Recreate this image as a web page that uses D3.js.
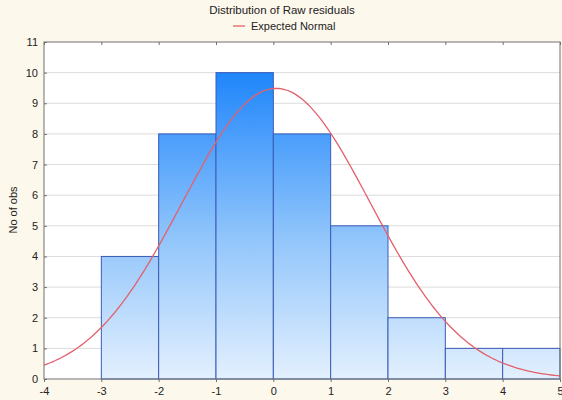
<!DOCTYPE html>
<html>
<head>
<meta charset="utf-8">
<script src="https://cdn.jsdelivr.net/npm/d3@7"></script>
<style>
  html, body { margin: 0; padding: 0; background: #fdf8ec; }
  svg { display: block; font-family: "Liberation Sans", Arial, sans-serif; }
</style>
</head>
<body>
<svg id="chart" width="562" height="400"></svg>
<script>
// Histogram of raw residuals: bin edges and counts
const binStarts = [-3, -2, -1, 0, 1, 2, 3, 4];
const binCounts = [4, 8, 10, 8, 5, 2, 1, 1];
const binWidth = 1;

// Expected normal curve parameters (fitted to the residuals)
const normalMean = 0.05;
const normalSd = 1.64;
const normalN = 39;

const xTicks = [-4, -3, -2, -1, 0, 1, 2, 3, 4, 5];
const yTicks = [0, 1, 2, 3, 4, 5, 6, 7, 8, 9, 10, 11];

const svg = d3.select("#chart");
const margin = { left: 44, right: 2, top: 42, bottom: 21 };
const W = 562, H = 400;

const x = d3.scaleLinear().domain([-4, 5]).range([margin.left, W - margin.right]);
const y = d3.scaleLinear().domain([0, 11]).range([H - margin.bottom, margin.top]);

// Bar fill gradient spans the full plot height
const defs = svg.append("defs");
const grad = defs.append("linearGradient")
  .attr("id", "barGrad")
  .attr("gradientUnits", "userSpaceOnUse")
  .attr("x1", 0).attr("x2", 0)
  .attr("y1", y(0)).attr("y2", y(10));
grad.append("stop").attr("offset", "0%").attr("stop-color", "#e3f0fe");
grad.append("stop").attr("offset", "45%").attr("stop-color", "#93c6fb");
grad.append("stop").attr("offset", "100%").attr("stop-color", "#1f86fb");

// Plot area
svg.append("rect")
  .attr("x", x(-4)).attr("y", y(11))
  .attr("width", x(5) - x(-4)).attr("height", y(0) - y(11))
  .attr("fill", "#ffffff");

// Horizontal grid lines
svg.append("g").selectAll("line")
  .data(yTicks.filter(d => d > 0 && d < 11))
  .join("line")
  .attr("x1", x(-4)).attr("x2", x(5))
  .attr("y1", d => y(d)).attr("y2", d => y(d))
  .attr("stroke", "#dcdcdc").attr("stroke-width", 1);

// Histogram bars
svg.append("g").selectAll("rect")
  .data(binStarts.map((s, i) => ({ s, c: binCounts[i] })))
  .join("rect")
  .attr("x", d => x(d.s))
  .attr("y", d => y(d.c))
  .attr("width", d => x(d.s + binWidth) - x(d.s))
  .attr("height", d => y(0) - y(d.c))
  .attr("fill", "url(#barGrad)")
  .attr("stroke", "#3a5cb8")
  .attr("stroke-width", 1);

// Expected normal curve
const normalPts = d3.range(-4, 5.0001, 0.05).map(v => [
  v,
  normalN * binWidth / (normalSd * Math.sqrt(2 * Math.PI)) *
    Math.exp(-0.5 * Math.pow((v - normalMean) / normalSd, 2))
]);
svg.append("path")
  .datum(normalPts)
  .attr("fill", "none")
  .attr("stroke", "#e4606c")
  .attr("stroke-width", 1.3)
  .attr("d", d3.line().x(d => x(d[0])).y(d => y(d[1])));

// Plot frame
svg.append("rect")
  .attr("x", x(-4)).attr("y", y(11))
  .attr("width", x(5) - x(-4)).attr("height", y(0) - y(11))
  .attr("fill", "none").attr("stroke", "#707070").attr("stroke-width", 1);

// Axes (plain hyphen for negatives)
const fmt = d => String(d);
const xAxis = svg.append("g")
  .attr("transform", `translate(0,${y(0)})`)
  .call(d3.axisBottom(x).tickValues(xTicks).tickSize(3).tickFormat(fmt));
const xTop = svg.append("g")
  .attr("transform", `translate(0,${y(11)})`)
  .call(d3.axisBottom(x).tickValues(xTicks).tickSize(3).tickFormat(""));
const yAxis = svg.append("g")
  .attr("transform", `translate(${x(-4)},0)`)
  .call(d3.axisRight(y).tickValues(yTicks).tickSize(3).tickFormat(""));
const yLabels = svg.append("g")
  .attr("transform", `translate(${x(-4)},0)`)
  .call(d3.axisLeft(y).tickValues(yTicks).tickSize(0).tickPadding(6).tickFormat(fmt));

[xAxis, xTop, yAxis, yLabels].forEach(g => {
  g.select(".domain").remove();
  g.selectAll(".tick line").attr("stroke", "#707070");
  g.selectAll("text").attr("fill", "#222").attr("font-size", 11)
    .attr("font-family", "Liberation Sans, Arial, sans-serif");
});
xAxis.selectAll("text").attr("dy", "0.9em");

// Title
svg.append("text")
  .attr("x", 282).attr("y", 14)
  .attr("text-anchor", "middle")
  .attr("font-size", 11.5).attr("fill", "#222")
  .text("Distribution of Raw residuals");

// Legend
svg.append("line")
  .attr("x1", 233).attr("x2", 245).attr("y1", 26).attr("y2", 26)
  .attr("stroke", "#e4606c").attr("stroke-width", 1.3);
svg.append("text")
  .attr("x", 251).attr("y", 30)
  .attr("font-size", 11).attr("fill", "#222")
  .text("Expected Normal");

// Y axis title
svg.append("text")
  .attr("transform", "translate(17,210) rotate(-90)")
  .attr("text-anchor", "middle")
  .attr("font-size", 11).attr("fill", "#222")
  .text("No of obs");
</script>
</body>
</html>
